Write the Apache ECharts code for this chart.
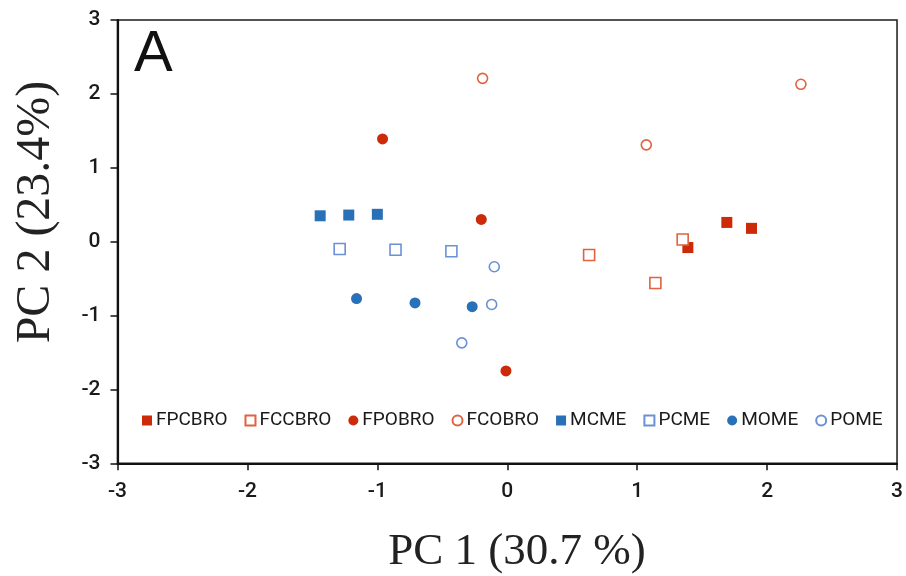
<!DOCTYPE html>
<html>
<head>
<meta charset="utf-8">
<script src="https://cdn.jsdelivr.net/npm/echarts@6/dist/echarts.min.js"></script>
<style>
html,body{margin:0;padding:0;background:#fff;}
#chart{width:906px;height:576px;}
</style>
</head>
<body>
<div id="chart"></div>
<script>
// PCA scores [PC1, PC2] per group
const FPCBRO = [[1.39, -0.08], [1.69, 0.26], [1.88, 0.18]];
const FCCBRO = [[0.63, -0.18], [1.14, -0.56], [1.35, 0.03]];
const FPOBRO = [[-0.96, 1.39], [-0.20, 0.30], [-0.01, -1.75]];
const FCOBRO = [[-0.19, 2.21], [1.07, 1.31], [2.26, 2.13]];
const MCME = [[-1.44, 0.35], [-1.22, 0.36], [-1.00, 0.37]];
const PCME = [[-1.29, -0.10], [-0.86, -0.11], [-0.43, -0.13]];
const MOME = [[-1.16, -0.77], [-0.71, -0.83], [-0.27, -0.88]];
const POME = [[-0.10, -0.34], [-0.12, -0.85], [-0.35, -1.37]];
const axisTicks = [-3, -2, -1, 0, 1, 2, 3];
const xTitle = 'PC 1 (30.7 %)';
const yTitle = 'PC 2 (23.4%)';
const panelLabel = 'A';

const RED = '#cc2a08', RED_OPEN = '#e0623f', BLUE = '#2870b8', BLUE_OPEN = '#6a91d6';
const sansFont = "'Roboto', 'Noto Sans', sans-serif";
const tickRich = {t: {fontSize: 21, fontWeight: 500, color: '#1a1a1a', fontFamily: sansFont}};

function ser(name, data, symbol, size, color, open) {
  return {
    name: name, type: 'scatter', data: data, symbol: symbol, symbolSize: size,
    itemStyle: open ? {color: '#ffffff', borderColor: color, borderWidth: 1.6, opacity: 1}
                    : {color: color, borderWidth: 0, opacity: 1},
    emphasis: {disabled: true}
  };
}

const chart = echarts.init(document.getElementById('chart'), null, {renderer: 'canvas'});
chart.setOption({
  animation: false,
  backgroundColor: '#ffffff',
  grid: {left: 117.5, right: 8.5, top: 20, bottom: 112.7, show: true,
         borderColor: '#1a1a1a', borderWidth: 1.5, containLabel: false},
  xAxis: {
    type: 'value', min: -3, max: 3, interval: 1,
    axisLine: {show: true, onZero: false, lineStyle: {color: '#111', width: 2.2}},
    axisTick: {show: true, inside: false, length: 7, lineStyle: {color: '#111', width: 1.5}},
    splitLine: {show: false},
    axisLabel: {margin: 18, fontSize: 21, color: '#1a1a1a', fontFamily: sansFont, rich: tickRich,
                formatter: v => axisTicks.includes(v) ? '{t|' + v + '}' : ''}
  },
  yAxis: {
    type: 'value', min: -3, max: 3, interval: 1,
    axisLine: {show: true, onZero: false, lineStyle: {color: '#111', width: 2.2}},
    axisTick: {show: true, inside: false, length: 7, lineStyle: {color: '#111', width: 1.5}},
    splitLine: {show: false},
    axisLabel: {margin: 17, fontSize: 21, color: '#1a1a1a', fontFamily: sansFont, rich: tickRich,
                formatter: v => axisTicks.includes(v) ? '{t|' + v + '}' : ''}
  },
  legend: {
    left: 137, top: 406, itemWidth: 10, itemHeight: 10, itemGap: 17,
    textStyle: {fontSize: 19, color: '#1a1a1a', fontFamily: sansFont, padding: [0, 0, 0, -1]},
    selectedMode: false
  },
  series: [
    ser('FPCBRO', FPCBRO, 'rect', 11, RED, false),
    ser('FCCBRO', FCCBRO, 'rect', 11, RED_OPEN, true),
    ser('FPOBRO', FPOBRO, 'circle', 11, RED, false),
    ser('FCOBRO', FCOBRO, 'circle', 10, RED_OPEN, true),
    ser('MCME', MCME, 'rect', 11, BLUE, false),
    ser('PCME', PCME, 'rect', 11, BLUE_OPEN, true),
    ser('MOME', MOME, 'circle', 11, BLUE, false),
    ser('POME', POME, 'circle', 10, BLUE_OPEN, true)
  ],
  graphic: [
    {type: 'text', left: 134, top: 26, style: {text: panelLabel, fontSize: 58, fill: '#111',
      fontFamily: "'Liberation Sans', Arial, sans-serif"}},
    {type: 'text', x: 517, y: 552, style: {text: xTitle, fontSize: 45, fill: '#222',
      fontFamily: "'Liberation Serif', 'Times New Roman', serif", align: 'center', verticalAlign: 'middle'}},
    {type: 'text', x: 36, y: 212, rotation: Math.PI / 2, style: {text: yTitle, fontSize: 48, fill: '#222',
      fontFamily: "'Liberation Serif', 'Times New Roman', serif", align: 'center', verticalAlign: 'middle'}}
  ]
});
</script>
</body>
</html>
